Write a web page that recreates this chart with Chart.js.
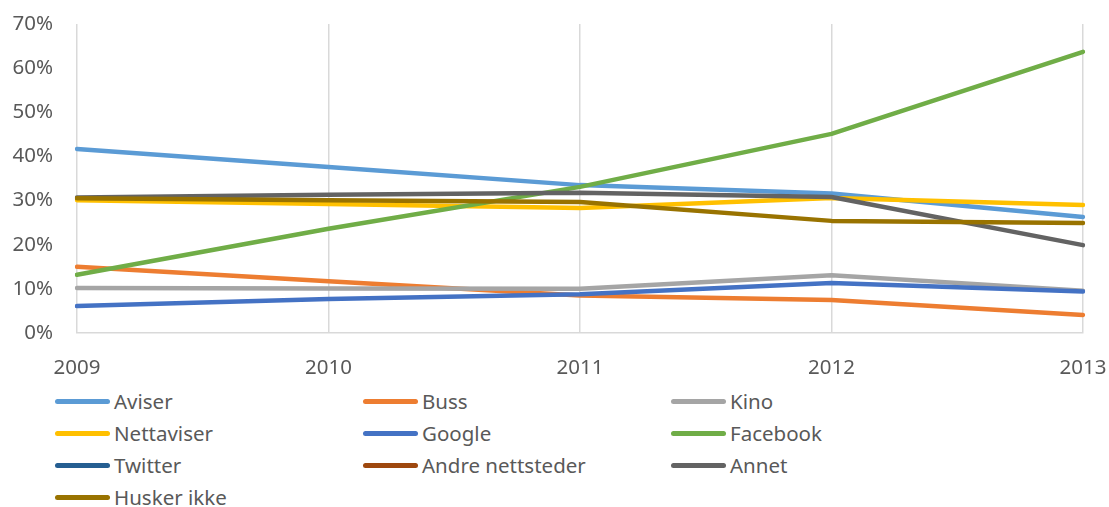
<!DOCTYPE html>
<html>
<head>
<meta charset="utf-8">
<script src="https://cdn.jsdelivr.net/npm/chart.js@4/dist/chart.umd.min.js"></script>
<style>
  html, body { margin: 0; padding: 0; background: #fff; }
  #wrap { position: relative; width: 1109px; height: 385px; }
  #legend {
    display: grid;
    grid-template-columns: 308px 308px 308px;
    margin-left: 55px;
    font-family: "Noto Sans", sans-serif;
    font-size: 20.5px;
    color: #595959;
  }
  .item { height: 32px; display: flex; align-items: center; }
  .swatch { width: 55px; height: 5px; border-radius: 3px; margin-right: 4px; }
</style>
</head>
<body>
<div id="wrap"><canvas id="myChart" width="1109" height="385"></canvas></div>
<div id="legend"></div>
<script>
const years = ["2009", "2010", "2011", "2012", "2013"];

const aviser = [41.7, 37.6, 33.5, 31.6, 26.3];
const buss = [15.0, 11.7, 8.5, 7.5, 4.1];
const kino = [10.2, 10.1, 10.0, 13.1, 9.6];
const nettaviser = [30.1, 29.2, 28.3, 30.6, 29.0];
const google = [6.1, 7.7, 8.8, 11.3, 9.4];
const facebook = [13.2, 23.6, 33.1, 45.1, 63.7];
const twitter = [null, null, null, null, null];
const andreNettsteder = [null, null, null, null, null];
const annet = [30.7, 31.3, 31.8, 30.8, 19.9];
const huskerIkke = [30.5, 30.1, 29.7, 25.4, 24.9];

const series = [
  { label: "Aviser", data: aviser, color: "#5B9BD5" },
  { label: "Buss", data: buss, color: "#ED7D31" },
  { label: "Kino", data: kino, color: "#A5A5A5" },
  { label: "Nettaviser", data: nettaviser, color: "#FFC000" },
  { label: "Google", data: google, color: "#4472C4" },
  { label: "Facebook", data: facebook, color: "#70AD47" },
  { label: "Twitter", data: twitter, color: "#255E91" },
  { label: "Andre nettsteder", data: andreNettsteder, color: "#9E480E" },
  { label: "Annet", data: annet, color: "#636363" },
  { label: "Husker ikke", data: huskerIkke, color: "#997300" },
];

const data = {
  labels: years,
  datasets: series.map((s, i) => ({
    label: s.label,
    data: s.data,
    borderColor: s.color,
    backgroundColor: s.color,
    borderWidth: 4.5,
    borderCapStyle: "round",
    borderJoinStyle: "round",
    pointRadius: 0,
    fill: false,
    tension: 0,
    order: series.length - i, // later series on top, like Excel
  })),
};

const font = { family: "'Noto Sans', sans-serif", size: 20.5 };

const config = {
  type: "line",
  data: data,
  options: {
    responsive: false,
    animation: false,
    layout: { padding: { top: 24, right: 26, left: 0, bottom: 0 } },
    plugins: {
      legend: { display: false },
      tooltip: { enabled: false },
    },
    scales: {
      x: {
        offset: false,
        grid: { color: "#d9d9d9", lineWidth: 1.5, drawTicks: false },
        border: { color: "#d9d9d9", width: 1.5 },
        ticks: { color: "#595959", font: font, padding: 23, maxRotation: 0 },
        afterFit: (scale) => {
          scale.height = 52;
          scale.paddingLeft = 0;
          scale.paddingRight = 0;
        },
      },
      y: {
        min: 0,
        max: 70,
        grid: { display: false, drawTicks: false },
        border: { display: false },
        ticks: {
          stepSize: 10,
          color: "#595959",
          font: font,
          padding: 24,
          callback: (v) => v + "%",
        },
        afterFit: (scale) => {
          scale.width = 77;
          scale.paddingTop = 0;
          scale.paddingBottom = 0;
        },
      },
    },
  },
};

const ctx = document.getElementById("myChart").getContext("2d");
new Chart(ctx, config);

// legend in three columns, as in the original
const legend = document.getElementById("legend");
series.forEach((s) => {
  const item = document.createElement("div");
  item.className = "item";
  const sw = document.createElement("span");
  sw.className = "swatch";
  sw.style.background = s.color;
  const txt = document.createElement("span");
  txt.textContent = s.label;
  item.appendChild(sw);
  item.appendChild(txt);
  legend.appendChild(item);
});
</script>
</body>
</html>
